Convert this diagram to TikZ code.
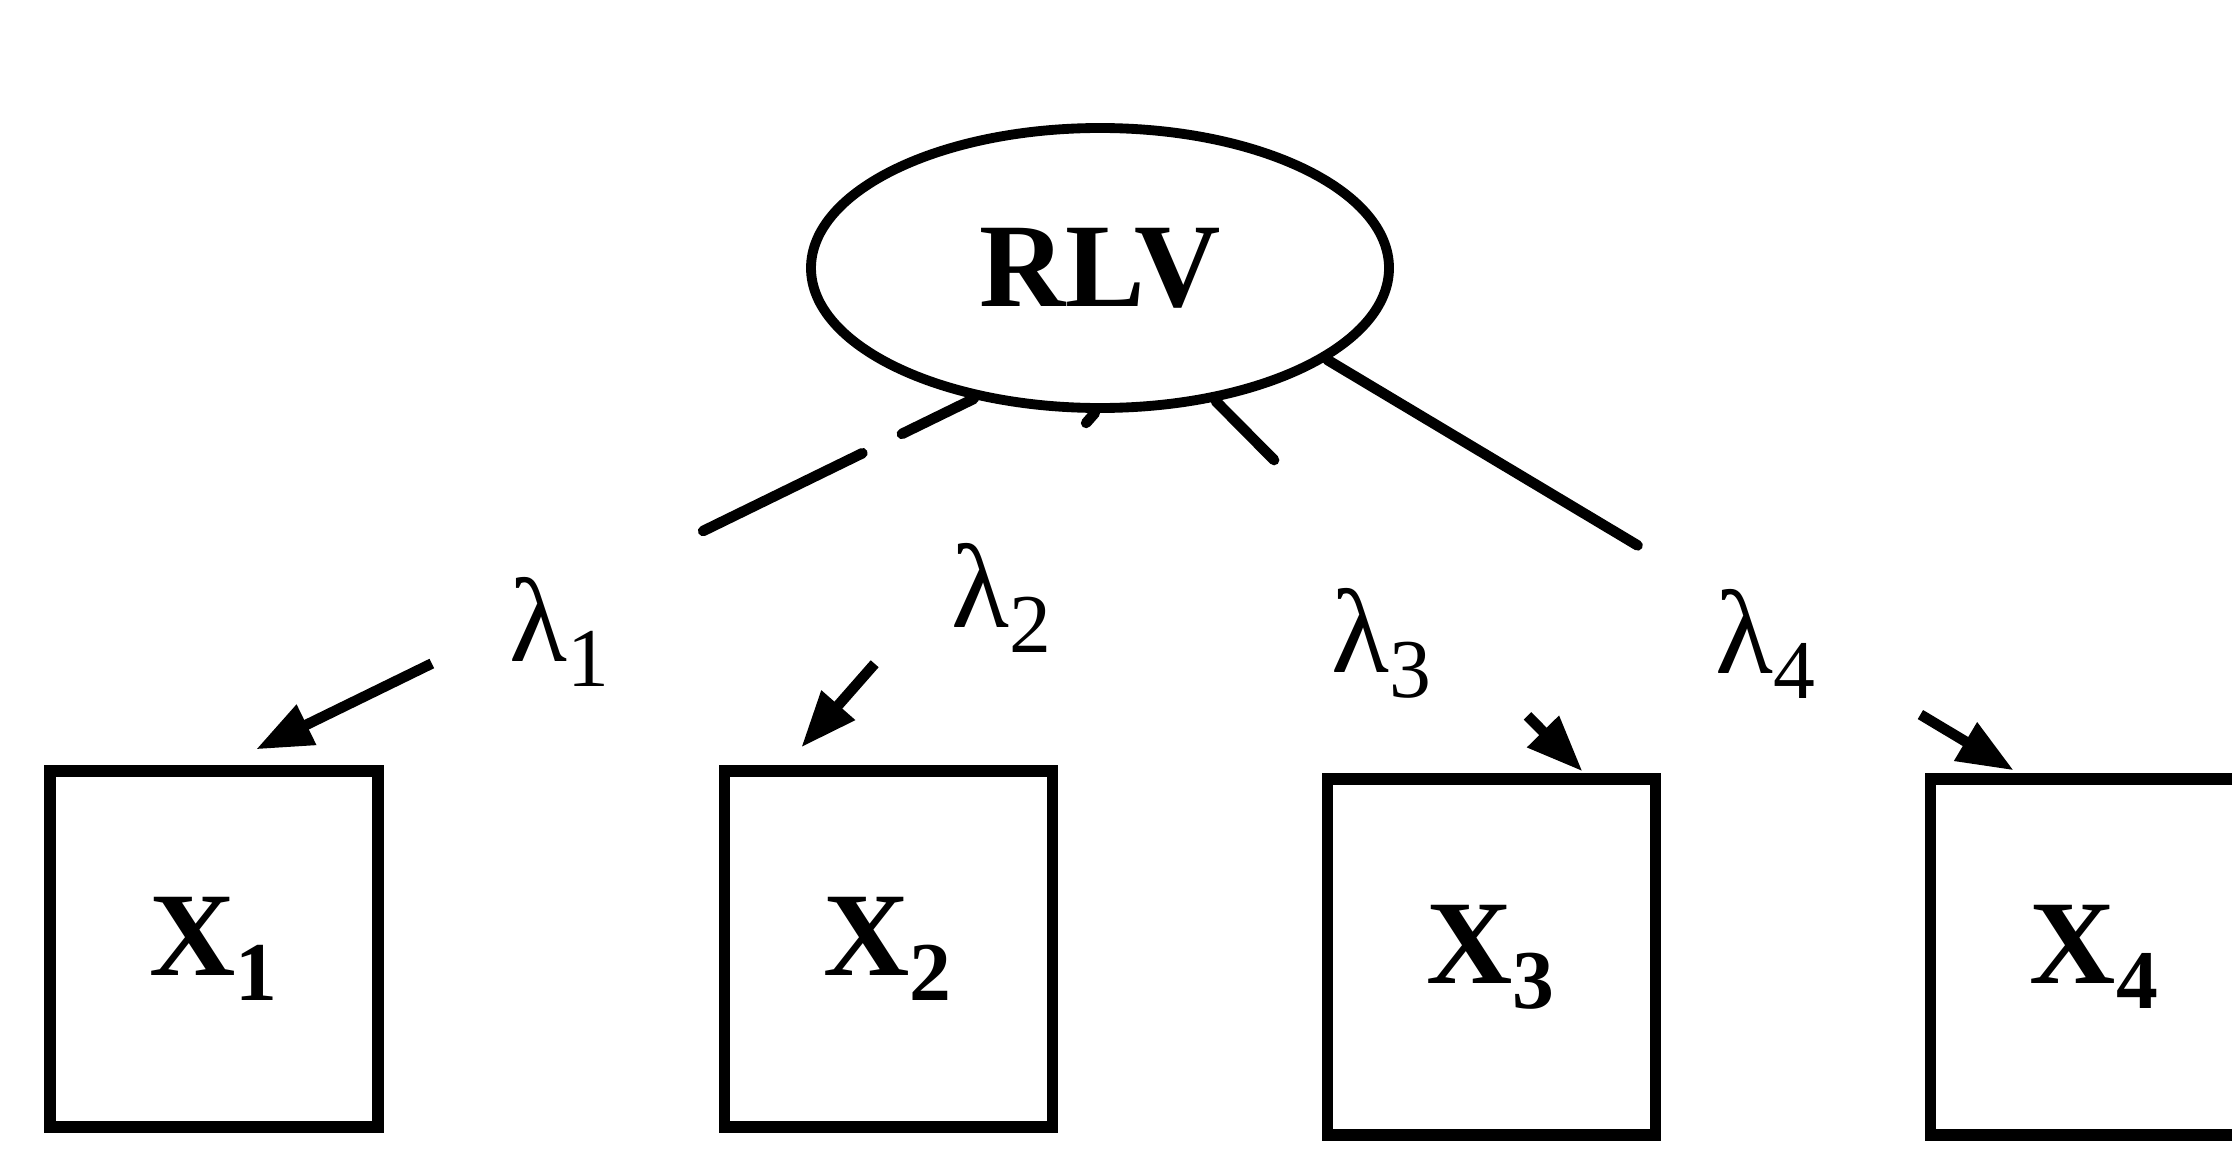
\documentclass[tikz,border=0pt]{standalone}
\usepackage{fontspec}
\setmainfont{Liberation Serif}
\usetikzlibrary{arrows.meta,calc,positioning,shapes.geometric}

\begin{document}
\begin{tikzpicture}[>={Triangle[length=16pt,width=12pt]},
    every node/.style={font=\fontsize{34}{40}\selectfont},
    factor/.style={draw, ellipse, line width=2.8pt, inner sep=0pt,
        minimum width=5.78cm, minimum height=2.8cm, font=\fontsize{34}{40}\selectfont\bfseries},
    indicator/.style={draw, line width=3.2pt, inner sep=0pt,
        minimum width=3.28cm, minimum height=3.56cm, font=\fontsize{34}{40}\selectfont\bfseries},
    stub/.style={line width=3pt, line cap=round},
    loading/.style={->, line width=3pt}]
\clip (0,0) rectangle (22.32,-11.49);
\node[factor] (rlv) at (11.0,-2.68) {RLV};

\node[indicator] (x1) at (2.14,-9.49) {X\textsubscript{1}};
\node[indicator, right=3.35cm of x1] (x2) {X\textsubscript{2}};
\node[indicator, right=2.64cm of x2, yshift=-0.8mm] (x3) {X\textsubscript{3}};
\node[indicator, right=2.64cm of x3] (x4) {X\textsubscript{4}};

% loadings
\node (l1) at (5.60,-6.32) {λ\textsubscript{1}};
\node (l2) at (10.02,-5.98) {λ\textsubscript{2}};
\node (l3) at (13.82,-6.43) {λ\textsubscript{3}};
\node (l4) at (17.66,-6.44) {λ\textsubscript{4}};

\coordinate (t1) at ([shift={(0.42,0.16)}]x1.north);
\coordinate (t2) at ([shift={(-0.87,0.18)}]x2.north);
\coordinate (t3) at ([shift={(0.91,0.02)}]x3.north);
\coordinate (t4) at ([shift={(-0.81,0.03)}]x4.north);

% the lines are broken round the labels
\draw[stub] (rlv.226) -- ($(rlv.226)!0.10!(t1)$);
\draw[stub] ($(rlv.226)!0.155!(t1)$) -- ($(rlv.226)!0.377!(t1)$);
\draw[loading] ($(rlv.226)!0.755!(t1)$) -- (t1);
\draw[stub] (rlv.268) -- ($(rlv.268)!0.03!(t2)$);
\draw[loading] ($(rlv.268)!0.75!(t2)$) -- (t2);
\draw[stub] (rlv.311) -- ($(rlv.311)!0.159!(t3)$);
\draw[loading] ($(rlv.311)!0.85!(t3)$) -- (t3);
\draw[stub] (rlv.338) -- ($(rlv.338)!0.452!(t4)$);
\draw[loading] ($(rlv.338)!0.864!(t4)$) -- (t4);
\end{tikzpicture}
\end{document}
